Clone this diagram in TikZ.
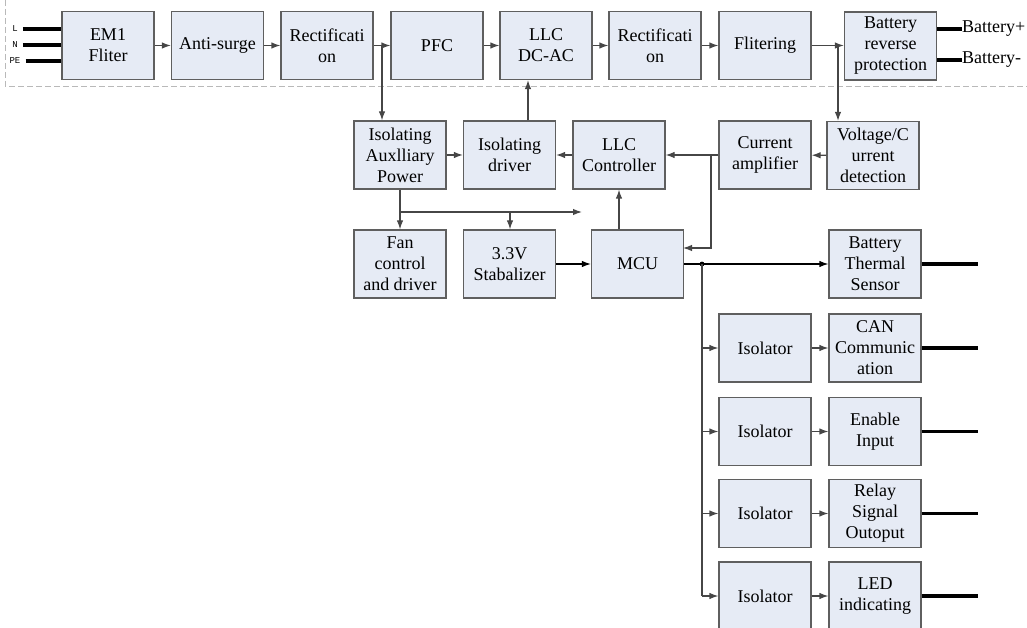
\documentclass[tikz,border=0pt]{standalone}
\usepackage{fontspec}
\setmainfont{Liberation Serif}
\newfontfamily\pinfont{Liberation Mono}
\usetikzlibrary{arrows.meta,positioning,calc}
\definecolor{boxfill}{RGB}{230,235,245}
\definecolor{boxline}{RGB}{95,95,95}
\definecolor{wire}{RGB}{70,70,70}

\begin{document}
\begin{tikzpicture}[x=1pt,y=-1pt,
	blk/.style={rectangle,draw=boxline,line width=1.2pt,fill=boxfill,minimum width=92pt,minimum height=68pt,
		inner sep=1pt,align=center,font=\rmfamily\fontsize{18}{21}\selectfont},
	conn/.style={draw=wire,line width=1.2pt,-{Latex[length=9pt,width=6.5pt]}},
	wireln/.style={draw=wire,line width=1.2pt},
	thickln/.style={draw=black,line width=3.8pt},
	sep/.style={draw=gray!55,line width=0.7pt,dash pattern=on 6pt off 3pt},
	pin/.style={font=\pinfont\fontsize{9}{10}\selectfont,inner sep=0pt},
	batt/.style={font=\rmfamily\fontsize{18}{20}\selectfont,inner sep=0pt,anchor=west}]
\useasboundingbox (0,0) rectangle (1027,628);
\draw[sep] (5,0) -- (5,86) -- (1027,86);

\node[blk] (em)    at (108,45.5)   {EM1\\Fliter};
\node[blk] (anti)  at (217.5,45.5) {Anti-surge};
\node[blk] (rect1) at (327,45.5)   {Rectificati\\on};
\node[blk] (pfc)   at (437,45.5)   {PFC};
\node[blk] (llc)   at (546,45.5)   {LLC\\DC-AC};
\node[blk] (rect2) at (655,45.5)   {Rectificati\\on};
\node[blk] (filt)  at (765,45.5)   {Flitering};
\node[blk] (brp)   at (890.5,46)   {Battery\\reverse\\protection};

\node[blk] (aux)  at (400,155)   {Isolating\\Auxlliary\\Power};
\node[blk] (idrv) at (509.5,155) {Isolating\\driver};
\node[blk] (llcc) at (619,155)   {LLC\\Controller};
\node[blk] (camp) at (765,155)   {Current\\amplifier};
\node[blk] (vcd)  at (873,155.5) {Voltage/C\\urrent\\detection};

\node[blk] (fan)  at (400,264)   {Fan\\control\\and driver};
\node[blk] (stab) at (509.5,264) {3.3V\\Stabalizer};
\node[blk] (mcu)  at (637.5,264) {MCU};
\node[blk] (bts)  at (875,264)   {Battery\\Thermal\\Sensor};

\foreach \i/\yy/\txt in {1/348/{CAN\\Communic\\ation},2/431.5/{Enable\\Input},3/513.5/{Relay\\Signal\\Outoput},4/596/{LED\\indicating}}{
	\node[blk] (iso\i) at (765,\yy) {Isolator};
	\node[blk] (out\i) at (875,\yy) {\txt};
}

\node[pin] (pL)  at (15,29) {L};
\node[pin] (pN)  at (15,45) {N};
\node[pin] (pPE) at (15,61) {PE};
\foreach \p in {pL,pN,pPE}
	\draw[thickln] ($(\p.east)+(5,0)$) -- (em.west |- \p);

\node[batt] (bplus)  at (962,29) {Battery+};
\node[batt] (bminus) at (962,60) {Battery-};
\draw[thickln] (brp.east |- bplus) -- (bplus.west);
\draw[thickln] (brp.east |- bminus) -- (bminus.west);

\draw[conn] (em) -- (anti);
\draw[conn] (anti) -- (rect1);
\draw[conn] (rect1) -- (pfc);
\draw[conn] (pfc) -- (llc);
\draw[conn] (llc) -- (rect2);
\draw[conn] (rect2) -- (filt);
\draw[conn] (filt.east) -- (filt.east -| brp.west);

\coordinate (tapA) at (382,45.5);
\coordinate (tapB) at (838,45.5);
\draw[conn] (tapA) -- (tapA |- aux.north);
\draw[conn] (tapB) -- (tapB |- vcd.north);

\coordinate (drvup) at (528,100);
\draw[conn] (drvup |- idrv.north) -- (drvup |- llc.south);
\draw[conn] (aux) -- (idrv);
\draw[conn] (llcc) -- (idrv);
\draw[conn] (camp) -- (llcc);
\draw[conn] (vcd) -- (camp);

\coordinate (tapC) at (711,155);
\coordinate (mcuin) at (683,248);
\draw[conn] (tapC) |- (mcuin);

\coordinate (tapD) at (400,212);
\coordinate (tapE) at (510,212);
\coordinate (pwrend) at (582,212);
\draw[conn] (aux) -- (fan);
\draw[conn] (tapD) -- (pwrend);
\draw[conn] (tapE) -- (tapE |- stab.north);

\draw[conn,draw=black] (stab) -- (mcu);
\draw[conn] (mcu.north -| llcc) -- (llcc.south);
\draw[conn,draw=black] (mcu) -- (bts);
\draw[thickln] (bts.east) -- ++(56,0);

\coordinate (bus) at (702,264);
\fill (bus) circle (2.4pt);
\draw[wireln] (bus) -- (bus |- iso4);
\foreach \i in {1,...,4}{
	\draw[conn] (bus |- iso\i) -- (iso\i);
	\draw[conn] (iso\i) -- (out\i);
	\draw[thickln] (out\i.east) -- ++(56,0);
}
\end{tikzpicture}
\end{document}
